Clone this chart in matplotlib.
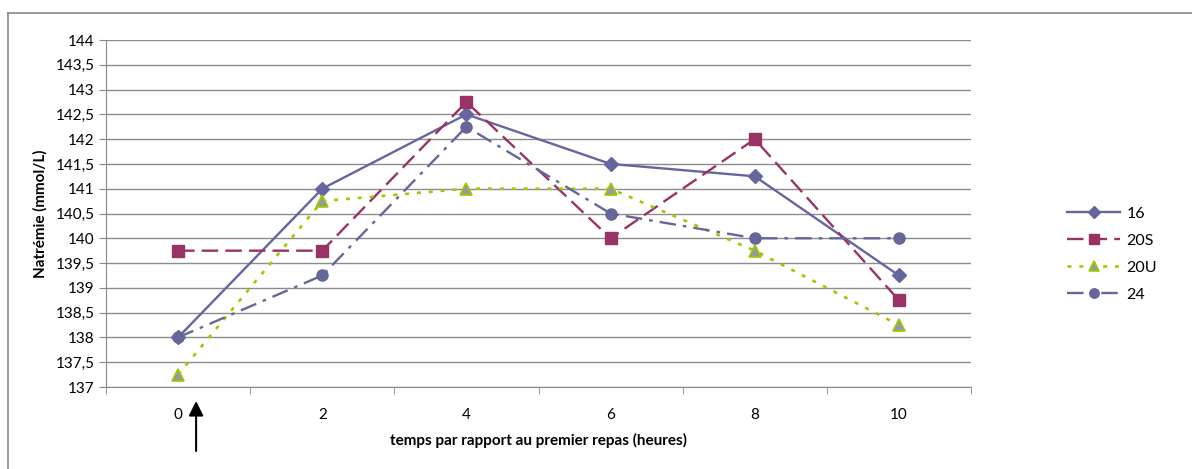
import matplotlib.pyplot as plt
from matplotlib.lines import Line2D

# temps (heures) et natrémie par groupe
temps = [0, 2, 4, 6, 8, 10]
na_16 = [138, 141, 142.5, 141.5, 141.25, 139.25]
na_20s = [139.75, 139.75, 142.75, 140, 142, 138.75]
na_20u = [137.25, 140.75, 141, 141, 139.75, 138.25]
na_24 = [138, 139.25, 142.25, 140.5, 140, 140]
y_ticks = [137 + 0.5 * i for i in range(15)]

plt.rcParams['font.family'] = ['Lato', 'DejaVu Sans']

W, H = 1192, 469
fig = plt.figure(figsize=(W / 100, H / 100), dpi=100)
ax = fig.add_axes([106 / W, 1 - 387 / H, (971 - 106) / W, 347 / H])

ax.plot(temps, na_16, color='#66669f', lw=1.7, marker='D', ms=7,
        label='16', zorder=3)
ax.plot(temps, na_20s, color='#993366', lw=1.7, marker='s', ms=8,
        dashes=(7, 3), label='20S', zorder=3)
ax.plot(temps, na_20u, color='#99cc00', lw=1.9, marker='^', ms=9,
        mfc='#999999', mec='#99cc00', mew=1.2, dashes=(1.5, 3),
        label='20U', zorder=3)
ax.plot(temps, na_24, color='#666699', lw=1.7, marker='o', ms=8,
        dashes=(7, 3, 1.5, 3), label='24', zorder=3)

ax.set_xlim(-1, 11)
ax.set_ylim(137, 144)
ax.set_yticks(y_ticks)
ax.set_yticklabels([('%g' % v).replace('.', ',') for v in y_ticks])
ax.set_xticks(temps)
ax.set_xticks(range(-1, 12, 2), minor=True)
ax.tick_params(axis='x', which='major', length=0, pad=15, labelsize=11)
ax.tick_params(axis='x', which='minor', length=5, color='#888888')
ax.tick_params(axis='y', length=5, color='#888888', pad=3, labelsize=11)

ax.grid(axis='y', color='#8c8c8c', lw=1)
ax.set_axisbelow(True)
for s in ['top', 'right']:
    ax.spines[s].set_visible(False)
for s in ['left', 'bottom']:
    ax.spines[s].set_color('#888888')

ax.set_ylabel('Natrémie (mmol/L)', fontsize=11, fontweight='bold', labelpad=6)
ax.set_xlabel('temps par rapport au premier repas (heures)', fontsize=11,
              fontweight='bold', labelpad=8)

# flèche : premier repas
ax.annotate('', xy=(0.25, H - 401), xytext=(0.25, H - 451),
            xycoords=('data', 'figure pixels'),
            textcoords=('data', 'figure pixels'),
            arrowprops=dict(arrowstyle='-|>', mutation_scale=22, lw=1.5,
                            color='black', shrinkA=0, shrinkB=0))

fig.legend(loc='center left', bbox_to_anchor=(1053 / W, 1 - 254 / H),
           frameon=False, fontsize=11.5, handlelength=3.3, labelspacing=0.8,
           handletextpad=0.4, markerscale=0.85)

# cadre du graphique
fig.add_artist(Line2D([8 / W, 1], [1 - 13 / H, 1 - 13 / H], color='#888888', lw=1.2))
fig.add_artist(Line2D([8 / W, 8 / W], [0, 1 - 13 / H], color='#888888', lw=1.2))

fig.savefig('out.png', dpi=100)
